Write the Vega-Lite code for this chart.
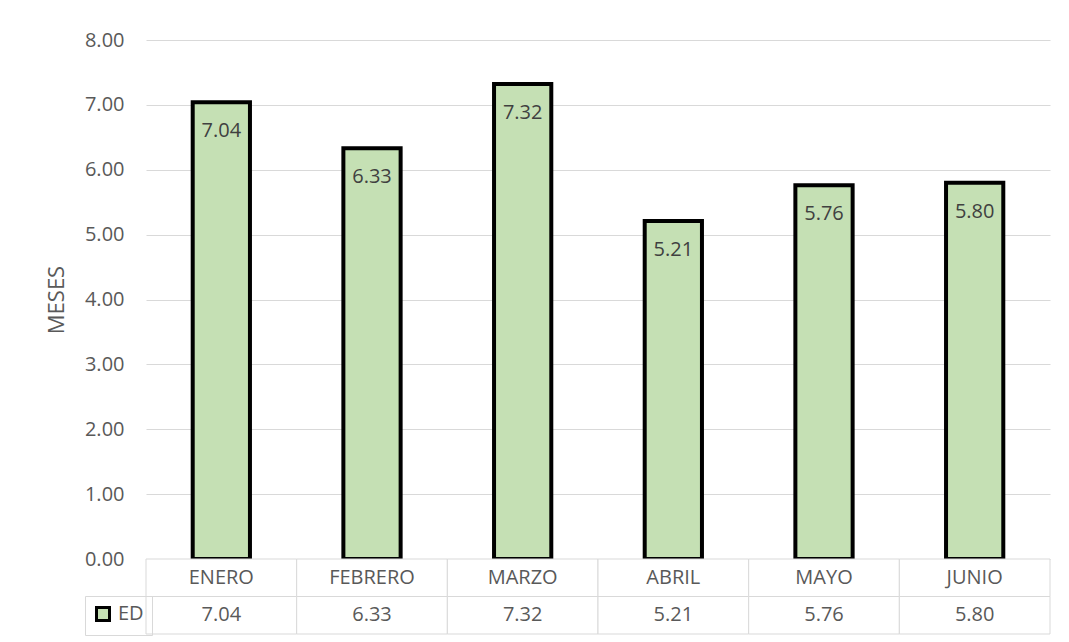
{
  "$schema": "https://vega.github.io/schema/vega-lite/v6.json",
  "background": "white",
  "padding": {"left": 45, "top": 30, "right": 10, "bottom": 5},
  "config": {"font": "Open Sans", "view": {"stroke": null}},
  "data": {"values": [
    {"mes": "ENERO", "ed": 7.04},
    {"mes": "FEBRERO", "ed": 6.33},
    {"mes": "MARZO", "ed": 7.32},
    {"mes": "ABRIL", "ed": 5.21},
    {"mes": "MAYO", "ed": 5.76},
    {"mes": "JUNIO", "ed": 5.80}
  ]},
  "spacing": 0,
  "bounds": "flush",
  "vconcat": [
    {
      "width": 904,
      "height": 519,
      "encoding": {
        "x": {"field": "mes", "type": "nominal", "sort": null, "axis": null,
              "scale": {"paddingInner": 0.62, "paddingOuter": 0.31}},
        "y": {"field": "ed", "type": "quantitative",
              "scale": {"domain": [0, 8], "nice": false},
              "axis": {"values": [0, 1, 2, 3, 4, 5, 6, 7, 8], "format": ".2f", "title": "MESES",
                       "titleFontSize": 22, "titleFontWeight": "normal", "titleColor": "#595959", "titlePadding": 16,
                       "labelFontSize": 20, "labelColor": "#595959", "labelPadding": 22,
                       "ticks": false, "domain": false, "gridColor": "#d9d9d9", "gridWidth": 1}}
      },
      "layer": [
        {
          "mark": {"type": "bar", "stroke": "black", "strokeWidth": 4},
          "encoding": {
            "fill": {"datum": "ED", "type": "nominal", "scale": {"range": ["#C5E0B4"]},
                     "legend": {"orient": "none", "legendX": -61, "legendY": 556, "title": null,
                                "symbolType": "square", "symbolSize": 169, "symbolStrokeColor": "black",
                                "symbolStrokeWidth": 3, "labelFontSize": 20, "labelColor": "#595959",
                                "strokeColor": "#d9d9d9", "padding": 8, "labelOffset": 5}}
          }
        },
        {
          "mark": {"type": "text", "dy": 29, "fontSize": 20, "fill": "#404040", "baseline": "middle"},
          "encoding": {"text": {"field": "ed", "type": "quantitative", "format": ".2f"}}
        }
      ]
    },
    {
      "width": 904,
      "height": 75,
      "encoding": {
        "x": {"field": "mes", "type": "nominal", "sort": null, "axis": null,
              "scale": {"paddingInner": 0, "paddingOuter": 0}}
      },
      "layer": [
        {
          "mark": {"type": "rect", "fill": "white", "stroke": "#d9d9d9", "strokeWidth": 1},
          "encoding": {"y": {"datum": "header", "type": "nominal",
                             "scale": {"domain": ["header", "ED"], "paddingInner": 0, "paddingOuter": 0},
                             "axis": null}}
        },
        {
          "mark": {"type": "rect", "fill": "white", "stroke": "#d9d9d9", "strokeWidth": 1},
          "encoding": {"y": {"datum": "ED", "type": "nominal"}}
        },
        {
          "mark": {"type": "text", "fontSize": 20, "fill": "#595959", "baseline": "middle"},
          "encoding": {"y": {"datum": "header", "type": "nominal"}, "text": {"field": "mes", "type": "nominal"}}
        },
        {
          "mark": {"type": "text", "fontSize": 20, "fill": "#595959", "baseline": "middle"},
          "encoding": {"y": {"datum": "ED", "type": "nominal"}, "text": {"field": "ed", "type": "quantitative", "format": ".2f"}}
        }
      ]
    }
  ]
}
